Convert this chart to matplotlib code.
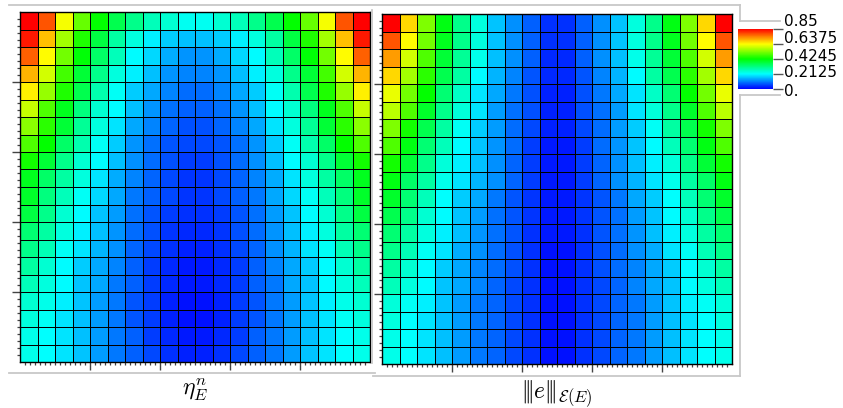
import matplotlib
matplotlib.use("Agg")
import matplotlib.pyplot as plt
import matplotlib.transforms as mtransforms
import numpy as np
from matplotlib.colors import LinearSegmentedColormap
from matplotlib.lines import Line2D
from matplotlib.ticker import FixedLocator

# ==========================================
# DATA (row 0 = top row)
# ==========================================

ETA_ROWS = [
    [0.85, 0.78, 0.63, 0.51, 0.425, 0.36, 0.31, 0.27, 0.25, 0.225, 0.225, 0.25, 0.27, 0.31, 0.36, 0.425, 0.51, 0.63, 0.78, 0.85],
    [0.83, 0.69, 0.56, 0.45, 0.37, 0.29, 0.24, 0.20, 0.17, 0.16, 0.16, 0.17, 0.20, 0.24, 0.29, 0.37, 0.45, 0.56, 0.69, 0.83],
    [0.77, 0.64, 0.52, 0.42, 0.34, 0.27, 0.21, 0.18, 0.145, 0.125, 0.125, 0.145, 0.18, 0.21, 0.27, 0.34, 0.42, 0.52, 0.64, 0.77],
    [0.70, 0.60, 0.48, 0.38, 0.31, 0.24, 0.20, 0.16, 0.125, 0.11, 0.11, 0.125, 0.16, 0.20, 0.24, 0.31, 0.38, 0.48, 0.60, 0.70],
    [0.65, 0.55, 0.45, 0.36, 0.28, 0.22, 0.17, 0.14, 0.11, 0.09, 0.09, 0.11, 0.14, 0.17, 0.22, 0.28, 0.36, 0.45, 0.55, 0.65],
    [0.59, 0.49, 0.40, 0.32, 0.25, 0.21, 0.16, 0.125, 0.095, 0.08, 0.08, 0.095, 0.125, 0.16, 0.21, 0.25, 0.32, 0.40, 0.49, 0.59],
    [0.54, 0.46, 0.38, 0.30, 0.24, 0.19, 0.14, 0.11, 0.085, 0.067, 0.067, 0.085, 0.11, 0.14, 0.19, 0.24, 0.30, 0.38, 0.46, 0.54],
    [0.49, 0.425, 0.34, 0.28, 0.22, 0.17, 0.125, 0.095, 0.07, 0.06, 0.06, 0.07, 0.095, 0.125, 0.17, 0.22, 0.28, 0.34, 0.425, 0.49],
    [0.44, 0.38, 0.31, 0.25, 0.21, 0.16, 0.12, 0.09, 0.067, 0.05, 0.05, 0.067, 0.09, 0.12, 0.16, 0.21, 0.25, 0.31, 0.38, 0.44],
    [0.40, 0.34, 0.29, 0.24, 0.19, 0.145, 0.11, 0.085, 0.06, 0.045, 0.045, 0.06, 0.085, 0.11, 0.145, 0.19, 0.24, 0.29, 0.34, 0.40],
    [0.39, 0.32, 0.27, 0.22, 0.18, 0.14, 0.10, 0.08, 0.06, 0.045, 0.045, 0.06, 0.08, 0.10, 0.14, 0.18, 0.22, 0.27, 0.32, 0.39],
    [0.37, 0.31, 0.25, 0.21, 0.165, 0.13, 0.095, 0.07, 0.05, 0.04, 0.04, 0.05, 0.07, 0.095, 0.13, 0.165, 0.21, 0.25, 0.31, 0.37],
    [0.33, 0.29, 0.24, 0.20, 0.16, 0.125, 0.09, 0.067, 0.045, 0.035, 0.035, 0.045, 0.067, 0.09, 0.125, 0.16, 0.20, 0.24, 0.29, 0.33],
    [0.31, 0.275, 0.22, 0.19, 0.15, 0.12, 0.085, 0.06, 0.04, 0.028, 0.028, 0.04, 0.06, 0.085, 0.12, 0.15, 0.19, 0.22, 0.275, 0.31],
    [0.29, 0.25, 0.21, 0.17, 0.14, 0.11, 0.08, 0.05, 0.035, 0.02, 0.02, 0.035, 0.05, 0.08, 0.11, 0.14, 0.17, 0.21, 0.25, 0.29],
    [0.27, 0.24, 0.21, 0.165, 0.14, 0.10, 0.08, 0.05, 0.035, 0.02, 0.02, 0.035, 0.05, 0.08, 0.10, 0.14, 0.165, 0.21, 0.24, 0.27],
    [0.25, 0.23, 0.20, 0.165, 0.13, 0.10, 0.07, 0.05, 0.028, 0.015, 0.015, 0.028, 0.05, 0.07, 0.10, 0.13, 0.165, 0.20, 0.23, 0.25],
    [0.24, 0.22, 0.19, 0.16, 0.13, 0.10, 0.07, 0.05, 0.028, 0.015, 0.015, 0.028, 0.05, 0.07, 0.10, 0.13, 0.16, 0.19, 0.22, 0.24],
    [0.23, 0.215, 0.19, 0.16, 0.13, 0.10, 0.08, 0.05, 0.035, 0.02, 0.02, 0.035, 0.05, 0.08, 0.10, 0.13, 0.16, 0.19, 0.215, 0.23],
    [0.23, 0.215, 0.19, 0.165, 0.13, 0.10, 0.08, 0.06, 0.04, 0.028, 0.028, 0.04, 0.06, 0.08, 0.10, 0.13, 0.165, 0.19, 0.215, 0.23],
]

ENERGY_ROWS = [
    [0.85, 0.67, 0.53, 0.41, 0.31, 0.24, 0.165, 0.12, 0.08, 0.04, 0.04, 0.08, 0.12, 0.165, 0.24, 0.31, 0.41, 0.53, 0.67, 0.85],
    [0.78, 0.64, 0.52, 0.40, 0.31, 0.24, 0.165, 0.12, 0.08, 0.04, 0.04, 0.08, 0.12, 0.165, 0.24, 0.31, 0.40, 0.52, 0.64, 0.78],
    [0.72, 0.60, 0.49, 0.38, 0.30, 0.23, 0.16, 0.12, 0.08, 0.035, 0.035, 0.08, 0.12, 0.16, 0.23, 0.30, 0.38, 0.49, 0.60, 0.72],
    [0.67, 0.56, 0.46, 0.36, 0.29, 0.21, 0.15, 0.11, 0.07, 0.035, 0.035, 0.07, 0.11, 0.15, 0.21, 0.29, 0.36, 0.46, 0.56, 0.67],
    [0.62, 0.52, 0.425, 0.33, 0.26, 0.19, 0.14, 0.10, 0.067, 0.028, 0.028, 0.067, 0.10, 0.14, 0.19, 0.26, 0.33, 0.425, 0.52, 0.62],
    [0.58, 0.49, 0.39, 0.31, 0.245, 0.19, 0.13, 0.095, 0.067, 0.028, 0.028, 0.067, 0.095, 0.13, 0.19, 0.245, 0.31, 0.39, 0.49, 0.58],
    [0.53, 0.44, 0.36, 0.29, 0.22, 0.17, 0.13, 0.09, 0.06, 0.028, 0.028, 0.06, 0.09, 0.13, 0.17, 0.22, 0.29, 0.36, 0.44, 0.53],
    [0.49, 0.41, 0.33, 0.27, 0.21, 0.165, 0.125, 0.09, 0.05, 0.02, 0.02, 0.05, 0.09, 0.125, 0.165, 0.21, 0.27, 0.33, 0.41, 0.49],
    [0.44, 0.38, 0.31, 0.245, 0.20, 0.16, 0.12, 0.085, 0.05, 0.02, 0.02, 0.05, 0.085, 0.12, 0.16, 0.20, 0.245, 0.31, 0.38, 0.44],
    [0.41, 0.34, 0.29, 0.23, 0.19, 0.15, 0.12, 0.085, 0.05, 0.02, 0.02, 0.05, 0.085, 0.12, 0.15, 0.19, 0.23, 0.29, 0.34, 0.41],
    [0.39, 0.33, 0.27, 0.215, 0.17, 0.14, 0.10, 0.07, 0.045, 0.02, 0.02, 0.045, 0.07, 0.10, 0.14, 0.17, 0.215, 0.27, 0.33, 0.39],
    [0.36, 0.31, 0.25, 0.21, 0.165, 0.13, 0.095, 0.07, 0.045, 0.02, 0.02, 0.045, 0.07, 0.095, 0.13, 0.165, 0.21, 0.25, 0.31, 0.36],
    [0.33, 0.29, 0.24, 0.20, 0.16, 0.125, 0.095, 0.07, 0.04, 0.02, 0.02, 0.04, 0.07, 0.095, 0.125, 0.16, 0.20, 0.24, 0.29, 0.33],
    [0.31, 0.275, 0.22, 0.19, 0.145, 0.12, 0.09, 0.067, 0.04, 0.015, 0.015, 0.04, 0.067, 0.09, 0.12, 0.145, 0.19, 0.22, 0.275, 0.31],
    [0.29, 0.25, 0.21, 0.17, 0.14, 0.11, 0.09, 0.067, 0.04, 0.015, 0.015, 0.04, 0.067, 0.09, 0.11, 0.14, 0.17, 0.21, 0.25, 0.29],
    [0.27, 0.24, 0.21, 0.165, 0.14, 0.11, 0.085, 0.06, 0.04, 0.015, 0.015, 0.04, 0.06, 0.085, 0.11, 0.14, 0.165, 0.21, 0.24, 0.27],
    [0.245, 0.22, 0.20, 0.165, 0.13, 0.10, 0.085, 0.06, 0.04, 0.015, 0.015, 0.04, 0.06, 0.085, 0.10, 0.13, 0.165, 0.20, 0.22, 0.245],
    [0.24, 0.215, 0.19, 0.16, 0.13, 0.10, 0.085, 0.06, 0.04, 0.015, 0.015, 0.04, 0.06, 0.085, 0.10, 0.13, 0.16, 0.19, 0.215, 0.24],
    [0.23, 0.215, 0.19, 0.16, 0.13, 0.10, 0.085, 0.06, 0.04, 0.015, 0.015, 0.04, 0.06, 0.085, 0.10, 0.13, 0.16, 0.19, 0.215, 0.23],
    [0.23, 0.215, 0.19, 0.16, 0.13, 0.10, 0.085, 0.06, 0.04, 0.015, 0.015, 0.04, 0.06, 0.085, 0.10, 0.13, 0.16, 0.19, 0.215, 0.23],
]

PANEL_LABELS = [r"$\eta_E^n$", r"$|\!|\!|e|\!|\!|_{\mathcal{E}(E)}$"]
CBAR_TICKS = [0.0, 0.2125, 0.4245, 0.6375, 0.85]
CBAR_LABELS = ["0.", "0.2125", "0.4245", "0.6375", "0.85"]
VMIN, VMAX = 0.0, 0.85

# ==========================================
# LAYOUT (pixels, origin top-left)
# ==========================================

W, H = 843, 408
FRAME_COLOR = "#c8c8c8"
TICK_COLOR = "#444444"

rainbow = LinearSegmentedColormap.from_list(
    "rainbow_uniform", ["#0000ff", "#00ffff", "#00ff00", "#ffff00", "#ff0000"]
)


def px_rect(x0, y0, x1, y1):
    return [x0 / W, 1 - y1 / H, (x1 - x0) / W, (y1 - y0) / H]


def frame_line(fig, xs, ys):
    fig.add_artist(Line2D([x / W for x in xs], [1 - y / H for y in ys],
                          transform=fig.transFigure, color=FRAME_COLOR, lw=1.3))


def draw_panel(ax, rows, label):
    z = np.array(rows)
    n_rows, n_cols = z.shape
    xe = np.linspace(0, 1, n_cols + 1)
    ye = np.linspace(1, 0, n_rows + 1)
    mesh = ax.pcolormesh(xe, ye, z, cmap=rainbow, vmin=VMIN, vmax=VMAX,
                         edgecolors="black", linewidth=0.7, shading="flat")
    ax.set_xlim(0, 1)
    ax.set_ylim(0, 1)

    majors = [0.2, 0.4, 0.6, 0.8]
    ax.xaxis.set_major_locator(FixedLocator(majors))
    ax.yaxis.set_major_locator(FixedLocator(majors))
    ax.xaxis.set_minor_locator(FixedLocator(np.arange(1, 70) / 70))
    ax.yaxis.set_minor_locator(FixedLocator(np.arange(1, 50) * 0.02))
    ax.tick_params(which="major", direction="out", length=6, width=1,
                   color=TICK_COLOR, labelbottom=False, labelleft=False)
    ax.tick_params(which="minor", direction="out", length=2.5, width=0.9,
                   color=TICK_COLOR)
    for sp in ax.spines.values():
        sp.set_linewidth(1.0)
    ax.set_xlabel(label, fontsize=17, labelpad=4)
    return mesh


def main():
    plt.rcParams["mathtext.fontset"] = "cm"
    fig = plt.figure(figsize=(W / 100, H / 100), dpi=100)

    ax_left = fig.add_axes(px_rect(20, 12, 370, 362))
    ax_right = fig.add_axes(px_rect(382, 14, 732, 364))
    draw_panel(ax_left, ETA_ROWS, PANEL_LABELS[0])
    mesh = draw_panel(ax_right, ENERGY_ROWS, PANEL_LABELS[1])

    # small colorbar in the upper right corner
    cax = fig.add_axes(px_rect(738, 29, 773, 89))
    cb = fig.colorbar(mesh, cax=cax, ticks=CBAR_TICKS)
    cb.set_ticklabels(CBAR_LABELS)
    cb.outline.set_visible(False)
    cax.tick_params(length=7, width=1, color="#555555", labelsize=11, pad=1)
    offsets_px = [-1, 3, 4.5, 7, 8.5]
    for lab, dy in zip(cax.get_yticklabels(), offsets_px):
        lab.set_transform(lab.get_transform()
                          + mtransforms.ScaledTranslation(0, dy / 100, fig.dpi_scale_trans))

    # light grey frame around the panels
    frame_line(fig, [9, 740], [5, 5])
    frame_line(fig, [740, 740], [5, 21])
    frame_line(fig, [740, 780], [21, 21])
    frame_line(fig, [740, 780], [95, 95])
    frame_line(fig, [740, 740], [95, 376])
    frame_line(fig, [373, 740], [376, 376])
    frame_line(fig, [9, 375], [373, 373])
    frame_line(fig, [372, 372], [10, 363])

    fig.savefig("out.png", dpi=100)
    plt.close(fig)


if __name__ == "__main__":
    main()
